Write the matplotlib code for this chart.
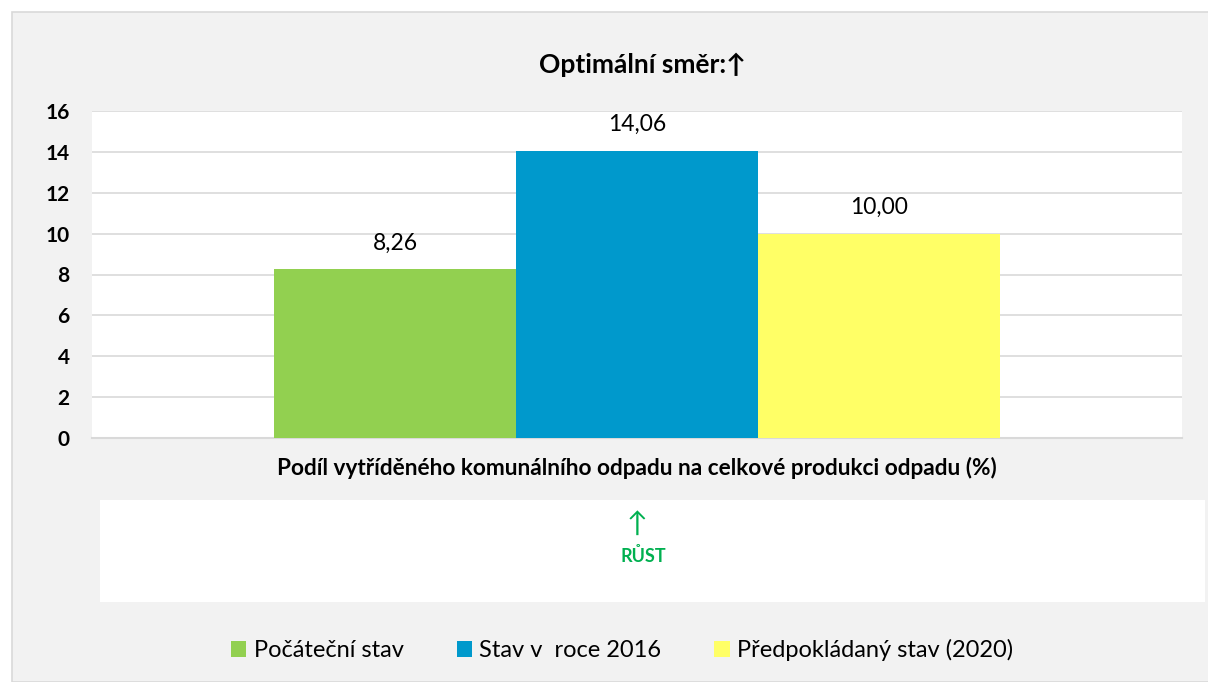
import numpy as np
import matplotlib.pyplot as plt
from matplotlib.patches import Rectangle, Patch

plt.rcParams['font.family'] = ['Lato', 'DejaVu Sans']

series = ["Počáteční stav", "Stav v  roce 2016", "Předpokládaný stav (2020)"]
values = [8.26, 14.06, 10.00]
colors = ["#92D050", "#0099CC", "#FFFF66"]
category = "Podíl vytříděného komunálního odpadu na celkové produkci odpadu (%)"
title = "Optimální směr:↑"
yticks = [0, 2, 4, 6, 8, 10, 12, 14, 16]

W, H = 1208, 682
fig = plt.figure(figsize=(W / 100, H / 100), dpi=100)
fig.patch.set_facecolor("white")

# grey chart panel and white box under the axis
fig.add_artist(Rectangle((12 / W, 0), 1.0, 1 - 12 / H, transform=fig.transFigure,
                         facecolor="#F2F2F2", edgecolor="#D9D9D9", lw=1.2, zorder=0))
fig.add_artist(Rectangle((100 / W, 1 - 602 / H), 1105 / W, 102 / H, transform=fig.transFigure,
                         facecolor="white", edgecolor="none", zorder=1))

ax = fig.add_axes([92 / W, 1 - 438 / H, 1090 / W, 327 / H])
ax.set_facecolor("white")
ax.set_zorder(2)

bw = 242 / 1090
x = (np.arange(len(values)) - 1) * bw
bars = ax.bar(x, values, width=bw, color=colors, zorder=3)
for xi, v in zip(x, values):
    ax.text(xi, v + 0.75, f"{v:.2f}".replace(".", ","), ha="center", va="bottom",
            fontsize=16.5, color="black", zorder=4)

ax.set_xlim(-0.5, 0.5)
ax.set_ylim(0, 16)
ax.set_yticks(yticks)
ax.set_yticklabels([str(t) for t in yticks], fontweight="bold", fontsize=15)
ax.tick_params(axis="y", length=0, pad=16)
ax.set_xticks([])
ax.grid(axis="y", color="#D9D9D9", lw=1.2, zorder=0)
for s in ["left", "right", "top"]:
    ax.spines[s].set_visible(False)
ax.spines["bottom"].set_color("#D9D9D9")
ax.spines["bottom"].set_linewidth(1.5)

fig.text(642 / W, 1 - 65 / H, title, ha="center", va="center", fontsize=19, fontweight="bold")
fig.text(637 / W, 1 - 468 / H, category, ha="center", va="center", fontsize=16.3, fontweight="bold")
fig.text(637 / W, 1 - 524 / H, "↑", ha="center", va="center", fontsize=20,
         color="#00B050", zorder=5)
fig.text(643 / W, 1 - 556 / H, "RŮST", ha="center", va="center", fontsize=13,
         fontweight="bold", color="#00B050", zorder=5)

handles = [Patch(facecolor=c, edgecolor="none") for c in colors]
fig.legend(handles, series, loc="center", bbox_to_anchor=(622 / W, 1 - 650 / H), ncol=3,
           frameon=False, fontsize=17, handlelength=0.65, handleheight=0.65,
           handletextpad=0.3, columnspacing=2.25)

fig.savefig("out.png", dpi=100, facecolor=fig.get_facecolor())
